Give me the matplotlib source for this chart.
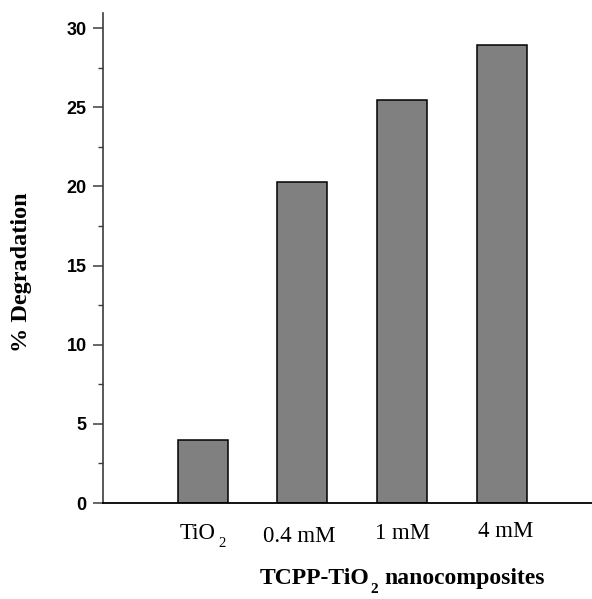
import matplotlib
matplotlib.use("Agg")
import matplotlib.pyplot as plt
from matplotlib.ticker import MultipleLocator

# Photocatalytic degradation for each sample
categories = ["TiO", "0.4 mM", "1 mM", "4 mM"]
subscripts = ["2", "", "", ""]
degradation = [4.0, 20.25, 25.45, 28.9]

# small per-label nudges (points) for the category labels
label_dx = [-3.6, -2.2, 0.0, 2.9]
label_dy = [-25.9, -28.1, -25.9, -24.5]

fig = plt.figure(figsize=(5.92, 5.99), dpi=100)
ax = fig.add_axes([103 / 592, 1 - 503 / 599, 489 / 592, 490 / 599])

x = list(range(1, len(categories) + 1))
ax.bar(x, degradation, width=0.5, color="#808080", edgecolor="black", linewidth=1.1, zorder=2)

ax.set_xlim(0, 4.905)
ax.set_ylim(0, 30.95)

for s in ("top", "right"):
    ax.spines[s].set_visible(False)
ax.spines["left"].set_color("#3c3c3c")
ax.spines["left"].set_linewidth(1.2)
ax.spines["bottom"].set_color("black")
ax.spines["bottom"].set_linewidth(1.3)

ax.yaxis.set_major_locator(MultipleLocator(5))
ax.yaxis.set_minor_locator(MultipleLocator(2.5))
ax.tick_params(axis="y", which="major", length=7.2, width=1.1, color="#3c3c3c", pad=4.5)
ax.tick_params(axis="y", which="minor", length=3.6, width=1.0, color="#3c3c3c")
ax.set_xticks([])
for lab in ax.get_yticklabels():
    lab.set_fontfamily("Liberation Sans")
    lab.set_fontweight("bold")
    lab.set_fontsize(13)

serif = "Liberation Serif"

# category labels under each bar, with a real subscript where needed
for xi, name, sub, dx, dy in zip(x, categories, subscripts, label_dx, label_dy):
    base = ax.annotate(name, xy=(xi, 0), xycoords=("data", "axes fraction"),
                       xytext=(dx, dy), textcoords="offset points",
                       ha="center", va="baseline", fontsize=16.5,
                       family=serif, annotation_clip=False)
    if sub:
        ax.annotate(sub, xy=(1, 0), xycoords=base, xytext=(2.0, 5.0),
                    textcoords="offset points", ha="left", va="top",
                    fontsize=10.5, family=serif, annotation_clip=False)

# x-axis title: TCPP-TiO2 nanocomposites
xt = fig.text(369 / 592, 1 - 584 / 599, "TCPP-TiO", ha="right", va="baseline",
              fontsize=17, fontweight="bold", family=serif)
xsub = ax.annotate("2", xy=(1, 0), xycoords=xt, xytext=(1.2, 4.4),
                   textcoords="offset points", ha="left", va="top",
                   fontsize=11, fontweight="bold", family=serif,
                   annotation_clip=False)
ax.annotate("nanocomposites", xy=(1, 0), xycoords=(xsub, xt), xytext=(4.0, 0),
            textcoords="offset points", ha="left", va="bottom",
            fontsize=17, fontweight="bold", family=serif, annotation_clip=False)

fig.text(22 / 592, 1 - 272 / 599, "% Degradation", rotation=90, ha="center", va="center",
         fontsize=17.5, fontweight="bold", family=serif)

fig.savefig("out.png", dpi=100)
